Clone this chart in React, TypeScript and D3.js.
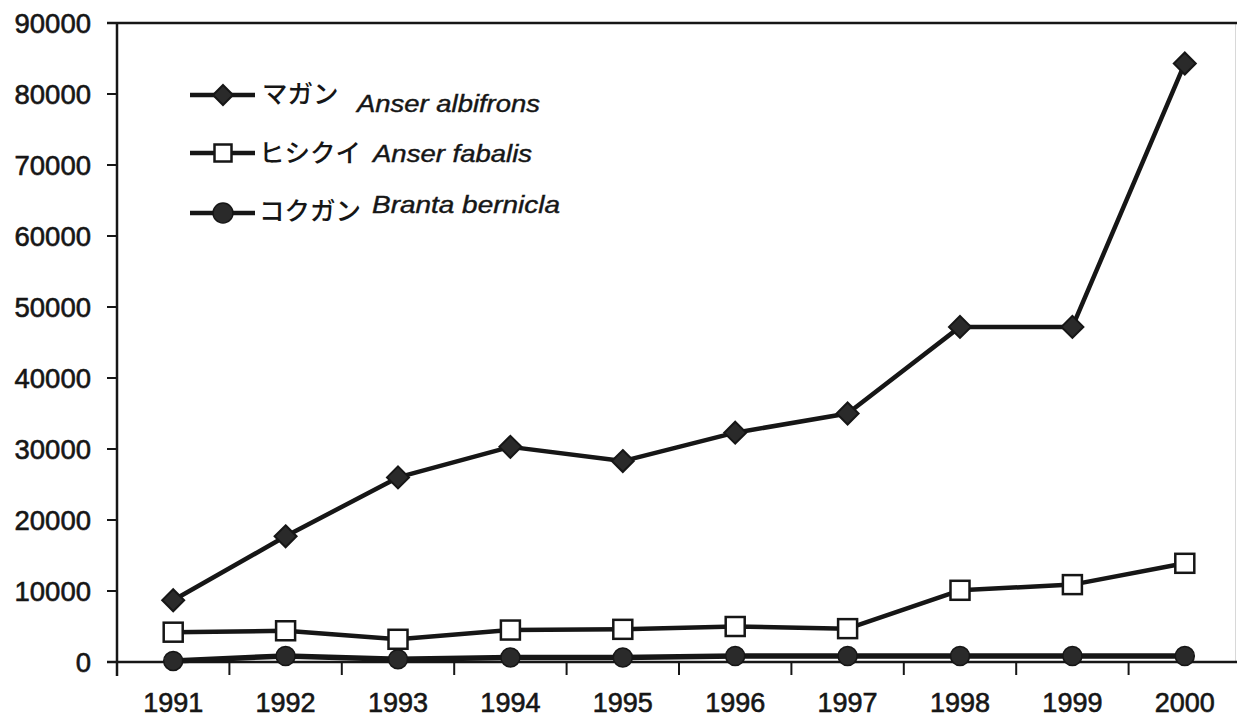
import React from 'react';
import * as d3 from 'd3';

const years = ['1991', '1992', '1993', '1994', '1995', '1996', '1997', '1998', '1999', '2000'];
const magan = [8700, 17700, 26000, 30300, 28300, 32300, 35000, 47200, 47200, 84300];
const hishikui = [4200, 4400, 3200, 4500, 4600, 5000, 4700, 10100, 10900, 13900];
const kokugan = [150, 850, 400, 650, 650, 850, 850, 850, 850, 850];
const yTicks = [0, 10000, 20000, 30000, 40000, 50000, 60000, 70000, 80000, 90000];

const W = 1237, H = 719;
const left = 117, top = 23, bottom = 662, bandRight = 1241;
const ink = '#161616';
const fillDark = '#2a2a2a';

export default function App() {
  const x = d3.scaleBand<string>().domain(years).range([left, bandRight]).paddingInner(0).paddingOuter(0);
  const y = d3.scaleLinear().domain([0, 90000]).range([bottom, top]);
  const cx = (yr: string) => (x(yr) as number) + x.bandwidth() / 2;
  const line = d3.line<number>().x((_, i) => cx(years[i])).y(v => y(v));

  const diamond = (px: number, py: number, r: number, key?: string) => (
    <path key={key} d={`M${px},${py - r}L${px + r},${py}L${px},${py + r}L${px - r},${py}Z`} fill={fillDark} stroke={ink} strokeWidth={2} />
  );
  const square = (px: number, py: number, s: number, key?: string) => (
    <rect key={key} x={px - s / 2} y={py - s / 2} width={s} height={s} fill="#fff" stroke={ink} strokeWidth={2.5} />
  );
  const circle = (px: number, py: number, r: number, key?: string) => (
    <circle key={key} cx={px} cy={py} r={r} fill={fillDark} stroke={ink} strokeWidth={1.5} />
  );

  const boundaries = years.map((yr) => x(yr) as number).slice(1);
  const numFont = "'Liberation Sans', Arial, sans-serif";
  const jpFont = "'Noto Sans CJK JP', sans-serif";

  return (
    <svg width={W} height={H} style={{ position: 'absolute', left: 0, top: 0, background: '#fff' }}>
      <rect x={0} y={0} width={W} height={H} fill="#fff" />
      <line x1={1235.5} x2={1235.5} y1={top} y2={bottom} stroke="#d8d8d8" strokeWidth={1} />
      <line x1={107} x2={W} y1={top} y2={top} stroke={ink} strokeWidth={2.5} />
      <line x1={left} x2={left} y1={top} y2={676} stroke={ink} strokeWidth={2.5} />
      <line x1={107} x2={W} y1={bottom} y2={bottom} stroke={ink} strokeWidth={2.5} />
      {yTicks.map(t => (
        <g key={t}>
          <line x1={107} x2={left} y1={y(t)} y2={y(t)} stroke={ink} strokeWidth={2} />
          <text x={91} y={y(t) + 10} textAnchor="end" fontFamily={numFont} fontSize={27.5} fill={ink} stroke={ink} strokeWidth={0.6}>{t}</text>
        </g>
      ))}
      {boundaries.map((b, i) => (
        <line key={i} x1={b} x2={b} y1={bottom} y2={675} stroke={ink} strokeWidth={2} />
      ))}
      {years.map(yr => (
        <text key={yr} x={cx(yr)} y={712} textAnchor="middle" fontFamily={numFont} fontSize={27} fill={ink} stroke={ink} strokeWidth={0.6}>{yr}</text>
      ))}

      <path d={line(kokugan) || ''} fill="none" stroke={ink} strokeWidth={5.5} strokeLinejoin="round" />
      <path d={line(hishikui) || ''} fill="none" stroke={ink} strokeWidth={4.5} strokeLinejoin="round" />
      <path d={line(magan) || ''} fill="none" stroke={ink} strokeWidth={4.5} strokeLinejoin="round" />
      {kokugan.map((v, i) => circle(cx(years[i]), y(v), 9.5, 'k' + i))}
      {hishikui.map((v, i) => square(cx(years[i]), y(v), 19, 'h' + i))}
      {magan.map((v, i) => diamond(cx(years[i]), y(v), 11, 'm' + i))}

      <g>
        <line x1={190} x2={255} y1={95} y2={95} stroke={ink} strokeWidth={4.5} />
        {diamond(223, 95, 10)}
        <text x={262} y={103} fontFamily={jpFont} fontWeight={500} fontSize={25.5} fill={ink}>マガン</text>
        <text x={357} y={112} fontFamily={numFont} fontStyle="italic" fontSize={23} fill={ink} stroke={ink} strokeWidth={0.4} textLength={183} lengthAdjust="spacingAndGlyphs">Anser albifrons</text>

        <line x1={190} x2={255} y1={153} y2={153} stroke={ink} strokeWidth={4.5} />
        {square(223, 153, 17)}
        <text x={259} y={162} fontFamily={jpFont} fontWeight={500} fontSize={25.5} fill={ink}>ヒシクイ</text>
        <text x={373} y={162} fontFamily={numFont} fontStyle="italic" fontSize={23} fill={ink} stroke={ink} strokeWidth={0.4} textLength={159} lengthAdjust="spacingAndGlyphs">Anser fabalis</text>

        <line x1={190} x2={255} y1={213} y2={213} stroke={ink} strokeWidth={4.5} />
        {circle(223, 213, 10)}
        <text x={259} y={220} fontFamily={jpFont} fontWeight={500} fontSize={25.5} fill={ink}>コクガン</text>
        <text x={372} y={213} fontFamily={numFont} fontStyle="italic" fontSize={23} fill={ink} stroke={ink} strokeWidth={0.4} textLength={188} lengthAdjust="spacingAndGlyphs">Branta bernicla</text>
      </g>
    </svg>
  );
}
